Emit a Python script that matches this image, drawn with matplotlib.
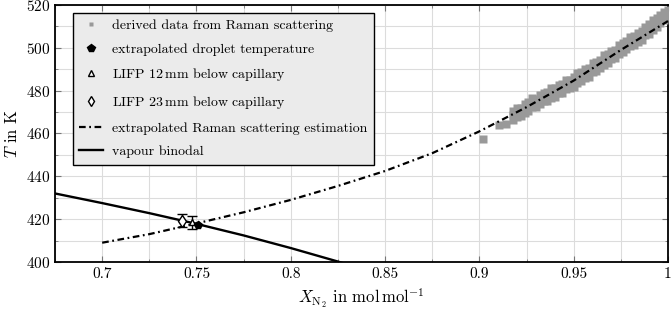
import matplotlib
matplotlib.use('Agg')
import matplotlib.pyplot as plt
from matplotlib.lines import Line2D
from matplotlib.ticker import MultipleLocator

plt.rcParams['font.family'] = 'serif'
plt.rcParams['font.serif'] = ['cmr10']
plt.rcParams['mathtext.fontset'] = 'cm'
plt.rcParams['axes.formatter.use_mathtext'] = True

# derived data from Raman scattering (x in mol/mol, T in K)
# isolated points at the low end of the band
raman_single_x = [0.902, 0.9105, 0.914]
raman_single_t = [457.3, 464.0, 464.5]
# the dense band
raman_x = [0.918, 0.920, 0.922, 0.924, 0.926, 0.928, 0.930, 0.932, 0.934, 0.936,
           0.938, 0.940, 0.942, 0.944, 0.946, 0.948, 0.950, 0.952, 0.954, 0.956,
           0.958, 0.960, 0.962, 0.964, 0.966, 0.968, 0.970, 0.972, 0.974, 0.976,
           0.978, 0.980, 0.982, 0.984, 0.986, 0.988, 0.990, 0.992, 0.994, 0.996,
           0.998, 1.000]
raman_t_mid = [468.5, 469.5, 470.5, 471.5, 472.9, 473.8, 474.8, 475.7, 476.7, 477.6,
               478.6, 479.5, 480.5, 481.4, 482.4, 483.3, 484.3, 485.5, 486.7, 487.9,
               489.2, 490.4, 491.6, 492.8, 494.0, 495.2, 496.5, 497.7, 498.9, 500.1,
               501.3, 502.5, 503.7, 504.9, 506.1, 507.6, 509.0, 510.5, 512.0, 513.5,
               515.0, 516.5]
raman_t_upper = [470.3, 471.9, 472.0, 473.7, 474.8, 476.4, 476.2, 478.0, 478.7, 479.3,
                 481.1, 481.1, 482.7, 483.3, 484.8, 484.8, 486.4, 488.1, 488.5, 490.2,
                 490.8, 492.8, 493.6, 494.5, 496.5, 497.1, 498.7, 499.2, 501.3, 502.1,
                 503.1, 505.1, 505.4, 507.1, 508.0, 509.9, 511.0, 512.9, 514.1, 515.3,
                 516.6, 517.7]
raman_t_lower = [466.2, 467.9, 468.0, 469.7, 470.7, 472.3, 472.4, 473.8, 475.0, 475.0,
                 476.6, 477.2, 478.9, 478.9, 480.6, 481.1, 481.9, 483.8, 484.6, 486.0,
                 486.6, 488.9, 489.3, 490.8, 492.2, 492.8, 494.9, 495.2, 496.9, 497.9,
                 499.4, 500.8, 501.3, 502.8, 503.8, 505.8, 506.5, 508.5, 509.8, 511.6,
                 512.9, 514.7]

# extrapolated droplet temperature
drop_x = [0.751]
drop_t = [417.3]

# LIFP measurements with error bars
lifp12_x = [0.7475]
lifp12_t = [418.6]
lifp12_err = [3.0]
lifp23_x = [0.7425]
lifp23_t = [419.3]
lifp23_err = [3.0]

# extrapolated Raman scattering estimation
est_x = [0.700, 0.725, 0.750, 0.775, 0.800, 0.825, 0.850, 0.875, 0.900,
         0.925, 0.950, 0.975, 1.000]
est_t = [409.0, 413.0, 418.0, 423.2, 429.0, 435.5, 442.5, 450.8, 461.0,
         472.3, 484.7, 499.0, 512.5]

# vapour binodal
bin_x = [0.675, 0.700, 0.725, 0.750, 0.775, 0.800, 0.825, 0.850]
bin_t = [432.0, 427.5, 422.8, 417.8, 412.4, 406.5, 400.2, 393.5]

fig = plt.figure(figsize=(6.71, 3.13), dpi=100)
ax = fig.add_axes([0.082, 0.163, 0.9135, 0.821])

gray = '#999999'
for ty in (raman_t_upper, raman_t_mid, raman_t_lower):
    ax.plot(raman_x, ty, 's', color=gray, ms=5.2, mec='none', zorder=3)
ax.plot(raman_single_x, raman_single_t, 's', color=gray, ms=5.2, mec='none', zorder=3)
ax.plot(drop_x, drop_t, 'p', color='black', ms=6, zorder=6)
ax.errorbar(lifp12_x, lifp12_t, yerr=lifp12_err, fmt='^', color='black', mfc='white',
            ms=5, mew=1.0, capsize=3.5, elinewidth=1.0, zorder=5)
ax.errorbar(lifp23_x, lifp23_t, yerr=lifp23_err, fmt='d', color='black', mfc='white',
            ms=6, mew=1.0, capsize=3.5, elinewidth=1.0, zorder=5)
dashdot = (0, (3, 1.6, 0.8, 1.6))
ax.plot(est_x, est_t, color='black', lw=1.6, ls=dashdot, zorder=4)
ax.plot(bin_x, bin_t, color='black', lw=1.7, zorder=4)

ax.set_xlim(0.675, 1.0)
ax.set_ylim(400, 520)
ax.xaxis.set_minor_locator(MultipleLocator(0.025))
ax.yaxis.set_major_locator(MultipleLocator(20))
ax.yaxis.set_minor_locator(MultipleLocator(10))
ax.set_xticks([0.7, 0.75, 0.8, 0.85, 0.9, 0.95, 1.0])
ax.set_xticklabels(['0.7', '0.75', '0.8', '0.85', '0.9', '0.95', '1'])
ax.grid(True, which='both', color='#dcdcdc', lw=0.8, zorder=0)
ax.set_axisbelow(True)
ax.tick_params(which='both', direction='in', top=True, right=True, labelsize=11,
               color='#777777')
ax.tick_params(which='major', length=4)
ax.tick_params(which='minor', length=2.5)
for s in ax.spines.values():
    s.set_linewidth(1.3)

ax.set_xlabel('$X_{\\mathrm{N_2}}$ in mol$\\,$mol$^{-1}$', fontsize=12)
ax.set_ylabel('$T$ in K', fontsize=12, labelpad=4)

handles = [
    Line2D([], [], ls='none', marker='s', color=gray, ms=3, mec='none'),
    Line2D([], [], ls='none', marker='p', color='black', ms=6),
    Line2D([], [], ls='none', marker='^', color='black', mfc='white', ms=5, mew=1.0),
    Line2D([], [], ls='none', marker='d', color='black', mfc='white', ms=5, mew=1.0),
    Line2D([], [], color='black', lw=1.6, ls=dashdot),
    Line2D([], [], color='black', lw=1.7),
]
labels = [
    'derived data from Raman scattering',
    'extrapolated droplet temperature',
    'LIFP 12$\\,$mm below capillary',
    'LIFP 23$\\,$mm below capillary',
    'extrapolated Raman scattering estimation',
    'vapour binodal',
]
leg = ax.legend(handles, labels, loc='upper left', bbox_to_anchor=(0.029, 0.969),
                borderaxespad=0, fontsize=10, fancybox=False, framealpha=1,
                facecolor='#ebebeb', edgecolor='black', handlelength=1.7,
                handletextpad=0.7, labelspacing=0.78, borderpad=0.45)
leg.get_frame().set_linewidth(1.0)
leg.set_zorder(10)

plt.savefig('out.png', dpi=100)
